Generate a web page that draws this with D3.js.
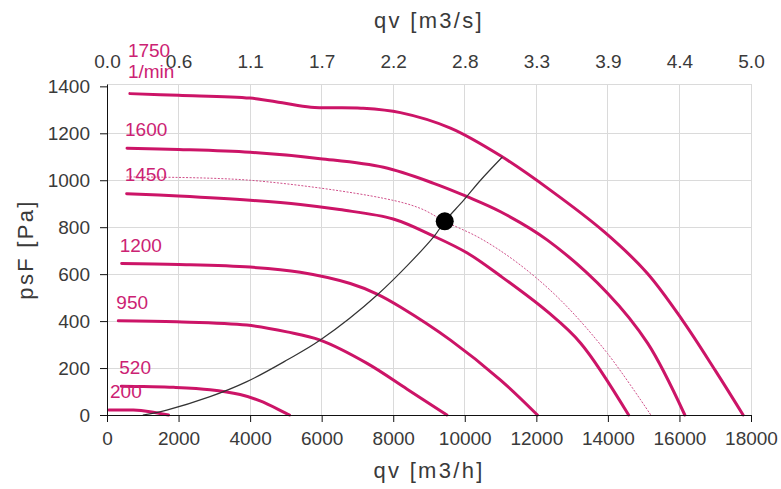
<!DOCTYPE html>
<html>
<head>
<meta charset="utf-8">
<script src="https://cdn.jsdelivr.net/npm/d3@7"></script>
<style>
    body { margin: 0; background: #fff; }
    svg { font-family: "Liberation Sans", Arial, sans-serif; }
</style>
</head>
<body>
<svg width="781" height="489"></svg>
<script>
// fan curves, qv [m3/h] vs psF [Pa]
var speedLabels = ['1750', '1600', '1450', '1200', '950', '520', '200'];

var q1750 = [640, 2000, 4000, 4900, 5700, 7100, 8200, 9600, 11000, 12400, 13900, 15100, 16100, 17000, 17780];
var p1750 = [1369, 1362, 1350, 1330, 1311, 1307, 1288, 1222, 1104, 957, 780, 604, 400, 190, 0];

var q1600 = [560, 2000, 4000, 5960, 7730, 9130, 10070, 11000, 12310, 13990, 15110, 16150];
var p1600 = [1136, 1131, 1119, 1092, 1055, 987, 930, 866, 745, 519, 306, 0];

var q1450 = [550, 2000, 4000, 5400, 6500, 8000, 9130, 10070, 11000, 12310, 13240, 14580];
var p1450 = [943, 933, 915, 897, 875, 835, 762, 690, 592, 440, 306, 0];

var q1200 = [410, 2000, 4000, 5400, 6800, 7550, 8200, 9600, 11000, 12030];
var p1200 = [645, 641, 630, 608, 560, 515, 460, 319, 149, 0];

var q950 = [317, 1950, 3910, 5030, 5960, 7270, 8390, 9500];
var p950 = [401, 397, 383, 354, 319, 220, 110, 0];

var q520 = [400, 1016, 1860, 2880, 3720, 4280, 5100];
var p520 = [123, 121, 118, 108, 87, 60, 0];

var q200 = [50, 736, 1200, 1720];
var p200 = [21, 21, 14, 0];

// thin dotted curve through the duty point
var qDotted = [550, 4000, 7730, 8760, 9440, 10440, 11500, 12680, 13990, 15200];
var pDotted = [1014, 1000, 923, 880, 825, 752, 645, 489, 262, 0];

// system curve (black)
var qSystem = [1000, 1670, 2880, 3910, 5030, 5960, 7550, 9130, 9440, 9970, 10440, 11050];
var pSystem = [0, 21, 78, 142, 234, 319, 511, 759, 825, 915, 1000, 1099];

var dutyQ = 9440;
var dutyP = 825;

var xTicks = [0, 2000, 4000, 6000, 8000, 10000, 12000, 14000, 16000, 18000];
var xTopLabels = ['0.0', '0.6', '1.1', '1.7', '2.2', '2.8', '3.3', '3.9', '4.4', '5.0'];
var yTicks = [0, 200, 400, 600, 800, 1000, 1200, 1400];

var CONFIG = {
    left: 107, right: 751, top: 84, bottom: 415,
    curveColor: '#cc1467',
    labelColor: '#cc2273',
    textColor: '#3a3a3a',
    gridColor: '#dadada',
    fontSize: 19,
    titleSize: 22
};

var svg = d3.select('svg');

var x = d3.scaleLinear().domain([0, 18000]).range([CONFIG.left, CONFIG.right]);
var y = d3.scaleLinear().domain([0, 1410]).range([CONFIG.bottom, CONFIG.top]);

//////////////////////   GRID    //////////////////////

var grid = svg.append('g')
    .attr('stroke', CONFIG.gridColor)
    .attr('stroke-width', 1)
    .attr('shape-rendering', 'crispEdges');

grid.selectAll('line.v')
    .data(xTicks.slice(1))
    .enter()
    .append('line')
    .attr('x1', function (d) { return x(d); })
    .attr('x2', function (d) { return x(d); })
    .attr('y1', CONFIG.top)
    .attr('y2', CONFIG.bottom);

grid.selectAll('line.h')
    .data(yTicks.slice(1, -1).concat([1410]))
    .enter()
    .append('line')
    .attr('x1', CONFIG.left)
    .attr('x2', CONFIG.right)
    .attr('y1', function (d) { return y(d); })
    .attr('y2', function (d) { return y(d); });

//////////////////////   CURVES    //////////////////////

var line = d3.line()
    .x(function (d) { return x(d[0]); })
    .y(function (d) { return y(d[1]); })
    .curve(d3.curveCatmullRom.alpha(0.5));

function zipCurve(qs, ps) {
    return qs.map(function (q, i) { return [q, ps[i]]; });
}

var fanCurves = [
    zipCurve(q1750, p1750),
    zipCurve(q1600, p1600),
    zipCurve(q1450, p1450),
    zipCurve(q1200, p1200),
    zipCurve(q950, p950),
    zipCurve(q520, p520),
    zipCurve(q200, p200)
];

svg.append('path')
    .attr('d', line(zipCurve(qDotted, pDotted)))
    .attr('fill', 'none')
    .attr('stroke', '#d0508a')
    .attr('stroke-width', 1)
    .attr('stroke-dasharray', '2,1.5');

svg.selectAll('path.fan')
    .data(fanCurves)
    .enter()
    .append('path')
    .attr('class', 'fan')
    .attr('d', line)
    .attr('fill', 'none')
    .attr('stroke', CONFIG.curveColor)
    .attr('stroke-width', 3)
    .attr('stroke-linecap', 'round');

svg.append('path')
    .attr('d', line(zipCurve(qSystem, pSystem)))
    .attr('fill', 'none')
    .attr('stroke', '#333')
    .attr('stroke-width', 1.2);

svg.append('circle')
    .attr('cx', x(dutyQ))
    .attr('cy', y(dutyP))
    .attr('r', 9)
    .attr('fill', '#000');

// speed labels sit just above the start of each curve
svg.selectAll('text.speed')
    .data(fanCurves)
    .enter()
    .append('text')
    .attr('class', 'speed')
    .attr('x', function (d) { return Math.max(x(d[0][0]) - 2, 110); })
    .attr('y', function (d, i) { return y(d[0][1]) - (i === 0 ? 37 : i === 2 ? 13 : 12); })
    .attr('fill', CONFIG.labelColor)
    .attr('font-size', CONFIG.fontSize)
    .text(function (d, i) { return speedLabels[i]; });

svg.append('text')
    .attr('x', x(q1750[0]) - 2)
    .attr('y', y(p1750[0]) - 16)
    .attr('fill', CONFIG.labelColor)
    .attr('font-size', CONFIG.fontSize)
    .text('1/min');

//////////////////////   AXES    //////////////////////

function styleAxis(g) {
    g.selectAll('text')
        .attr('font-size', CONFIG.fontSize)
        .attr('font-family', null)
        .attr('fill', CONFIG.textColor);
    g.selectAll('line, path').attr('stroke', '#111');
}

svg.append('g')
    .attr('transform', 'translate(0,' + CONFIG.bottom + ')')
    .call(d3.axisBottom(x).tickValues(xTicks).tickFormat(d3.format('d')).tickSize(7).tickSizeOuter(0).tickPadding(10))
    .call(styleAxis);

svg.append('g')
    .attr('transform', 'translate(' + CONFIG.left + ',0)')
    .call(d3.axisLeft(y).tickValues(yTicks).tickFormat(d3.format('d')).tickSize(7).tickSizeOuter(0).tickPadding(10))
    .call(styleAxis);

var topAxis = svg.append('g')
    .attr('transform', 'translate(0,' + CONFIG.top + ')')
    .call(d3.axisTop(x).tickValues(xTicks).tickFormat(function (d, i) { return xTopLabels[i]; }).tickSize(0).tickPadding(16))
    .call(styleAxis);
topAxis.select('.domain').remove();

function axisTitle(sel) {
    sel.attr('text-anchor', 'middle')
        .attr('font-size', CONFIG.titleSize)
        .attr('letter-spacing', '2.3px')
        .attr('fill', CONFIG.textColor);
}

svg.append('text')
    .attr('x', (CONFIG.left + CONFIG.right) / 2)
    .attr('y', 28)
    .call(axisTitle)
    .text('qv [m3/s]');

svg.append('text')
    .attr('x', (CONFIG.left + CONFIG.right) / 2)
    .attr('y', 478)
    .call(axisTitle)
    .text('qv [m3/h]');

svg.append('text')
    .attr('transform', 'translate(33,' + (CONFIG.top + CONFIG.bottom) / 2 + ') rotate(-90)')
    .call(axisTitle)
    .text('psF [Pa]');
</script>
</body>
</html>
